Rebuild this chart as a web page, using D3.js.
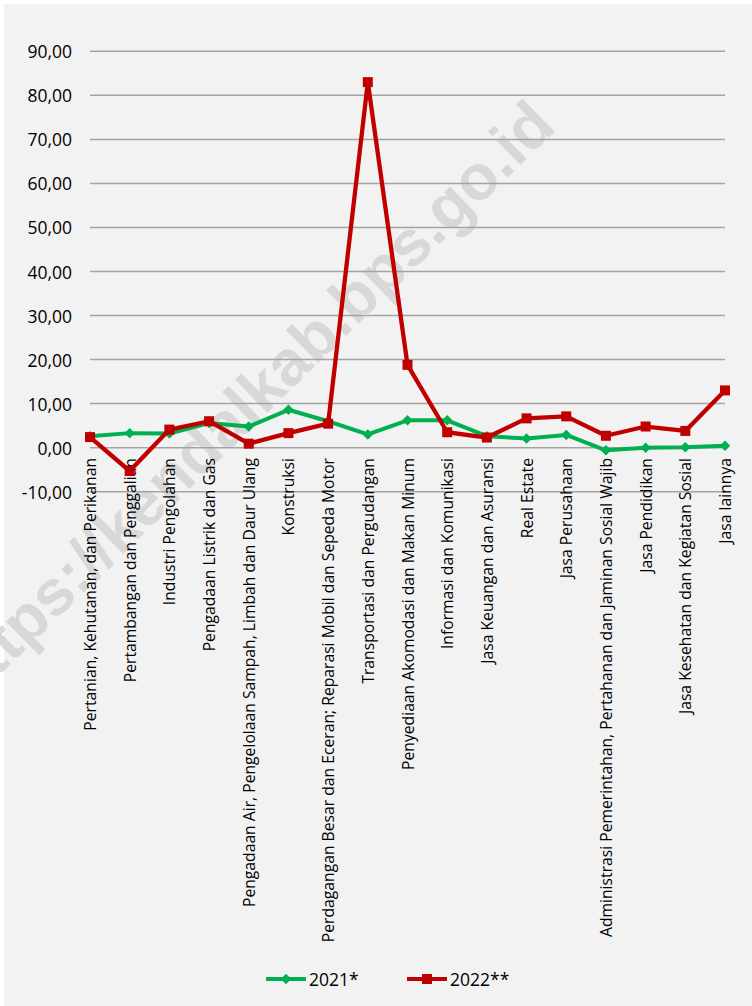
<!DOCTYPE html>
<html>
<head>
<meta charset="utf-8">
<script src="https://cdn.jsdelivr.net/npm/d3@7"></script>
<style>
    body { margin: 0; background: #fff; }
</style>
</head>
<body>
<div id="output"></div>
<script>
const categories = [
    "Pertanian, Kehutanan, dan Perikanan",
    "Pertambangan dan Penggalian",
    "Industri Pengolahan",
    "Pengadaan Listrik dan Gas",
    "Pengadaan Air, Pengelolaan Sampah, Limbah dan Daur Ulang",
    "Konstruksi",
    "Perdagangan Besar dan Eceran; Reparasi Mobil dan Sepeda Motor",
    "Transportasi dan Pergudangan",
    "Penyediaan Akomodasi dan Makan Minum",
    "Informasi dan Komunikasi",
    "Jasa Keuangan dan Asuransi",
    "Real Estate",
    "Jasa Perusahaan",
    "Administrasi Pemerintahan, Pertahanan dan Jaminan Sosial Wajib",
    "Jasa Pendidikan",
    "Jasa Kesehatan dan Kegiatan Sosial",
    "Jasa lainnya"
];

const values2021 = [2.6, 3.3, 3.2, 5.6, 4.8, 8.6, 6.0, 3.0, 6.2, 6.2, 2.6, 2.1, 2.9, -0.6, 0.0, 0.1, 0.45];
const values2022 = [2.4, -5.3, 4.1, 6.0, 0.9, 3.3, 5.45, 83.0, 18.8, 3.5, 2.3, 6.65, 7.1, 2.7, 4.8, 3.8, 13.0];

const yTicks = [-10, 0, 10, 20, 30, 40, 50, 60, 70, 80, 90];
const seriesNames = ["2021*", "2022**"];

const width = 752, height = 1006;
const font = "'Open Sans', sans-serif";
const green = "#00b050", red = "#c00000";

const svg = d3.select("#output").append("svg")
    .attr("width", width)
    .attr("height", height)
    .style("font-family", font);

svg.append("rect")
    .attr("x", 4).attr("y", 4)
    .attr("width", width - 4).attr("height", height - 4)
    .attr("fill", "#f2f2f2");

const x = d3.scalePoint()
    .domain(categories)
    .range([90, 725])
    .padding(0);

const y = d3.scaleLinear()
    .domain([-10, 90])
    .range([491.7, 51.3]);

// watermark, sits under everything
svg.append("text")
    .attr("transform", "translate(263,417) rotate(-44.4)")
    .attr("text-anchor", "middle")
    .attr("fill", "#d8d8d8")
    .style("font-family", "'Liberation Sans', Arial, sans-serif")
    .style("font-weight", "bold")
    .style("font-size", "64px")
    .attr("textLength", 825)
    .attr("lengthAdjust", "spacingAndGlyphs")
    .text("https://kendalkab.bps.go.id");

// gridlines
svg.append("g")
    .selectAll("line")
    .data(yTicks)
    .join("line")
    .attr("x1", 90)
    .attr("x2", 725)
    .attr("y1", d => y(d))
    .attr("y2", d => y(d))
    .attr("stroke", "#a3a3a3")
    .attr("stroke-width", 1.5);

// y axis labels
svg.append("g")
    .selectAll("text")
    .data(yTicks)
    .join("text")
    .attr("x", 72)
    .attr("y", d => y(d))
    .attr("text-anchor", "end")
    .attr("dominant-baseline", "central")
    .style("font-size", "17.5px")
    .attr("fill", "#000")
    .text(d => d3.format(".2f")(d).replace(".", ",").replace("−", "-"));

// category labels
svg.append("g")
    .selectAll("text")
    .data(categories)
    .join("text")
    .attr("transform", d => `translate(${x(d)},458) rotate(-90)`)
    .attr("text-anchor", "end")
    .attr("dominant-baseline", "central")
    .style("font-size", "15.7px")
    .attr("fill", "#000")
    .text(d => d);

const line = d3.line()
    .x((d, i) => x(categories[i]))
    .y(d => y(d));

// 2021 series
svg.append("path")
    .datum(values2021)
    .attr("d", line)
    .attr("fill", "none")
    .attr("stroke", green)
    .attr("stroke-width", 4)
    .attr("stroke-linejoin", "round");

svg.append("g")
    .selectAll("path")
    .data(values2021)
    .join("path")
    .attr("d", d3.symbol(d3.symbolDiamond2, 70))
    .attr("transform", (d, i) => `translate(${x(categories[i])},${y(d)})`)
    .attr("fill", green);

// 2022 series
svg.append("path")
    .datum(values2022)
    .attr("d", line)
    .attr("fill", "none")
    .attr("stroke", red)
    .attr("stroke-width", 4.3)
    .attr("stroke-linejoin", "round");

svg.append("g")
    .selectAll("rect")
    .data(values2022)
    .join("rect")
    .attr("x", (d, i) => x(categories[i]) - 5)
    .attr("y", d => y(d) - 5)
    .attr("width", 10)
    .attr("height", 10)
    .attr("fill", red);

// legend
const legend = svg.append("g")
    .style("font-size", "17.5px");

const legendItems = [
    {name: seriesNames[0], color: green, x: 266, shape: "diamond"},
    {name: seriesNames[1], color: red, x: 407, shape: "square"}
];

legendItems.forEach(item => {
    const g = legend.append("g").attr("transform", `translate(${item.x},979)`);
    g.append("line")
        .attr("x1", 0).attr("x2", 40)
        .attr("stroke", item.color)
        .attr("stroke-width", 4);
    if (item.shape === "diamond") {
        g.append("path")
            .attr("d", d3.symbol(d3.symbolDiamond2, 70))
            .attr("transform", "translate(20,0)")
            .attr("fill", item.color);
    } else {
        g.append("rect")
            .attr("x", 15).attr("y", -5)
            .attr("width", 10).attr("height", 10)
            .attr("fill", item.color);
    }
    g.append("text")
        .attr("x", 43)
        .attr("dominant-baseline", "central")
        .attr("fill", "#000")
        .text(item.name);
});
</script>
</body>
</html>
